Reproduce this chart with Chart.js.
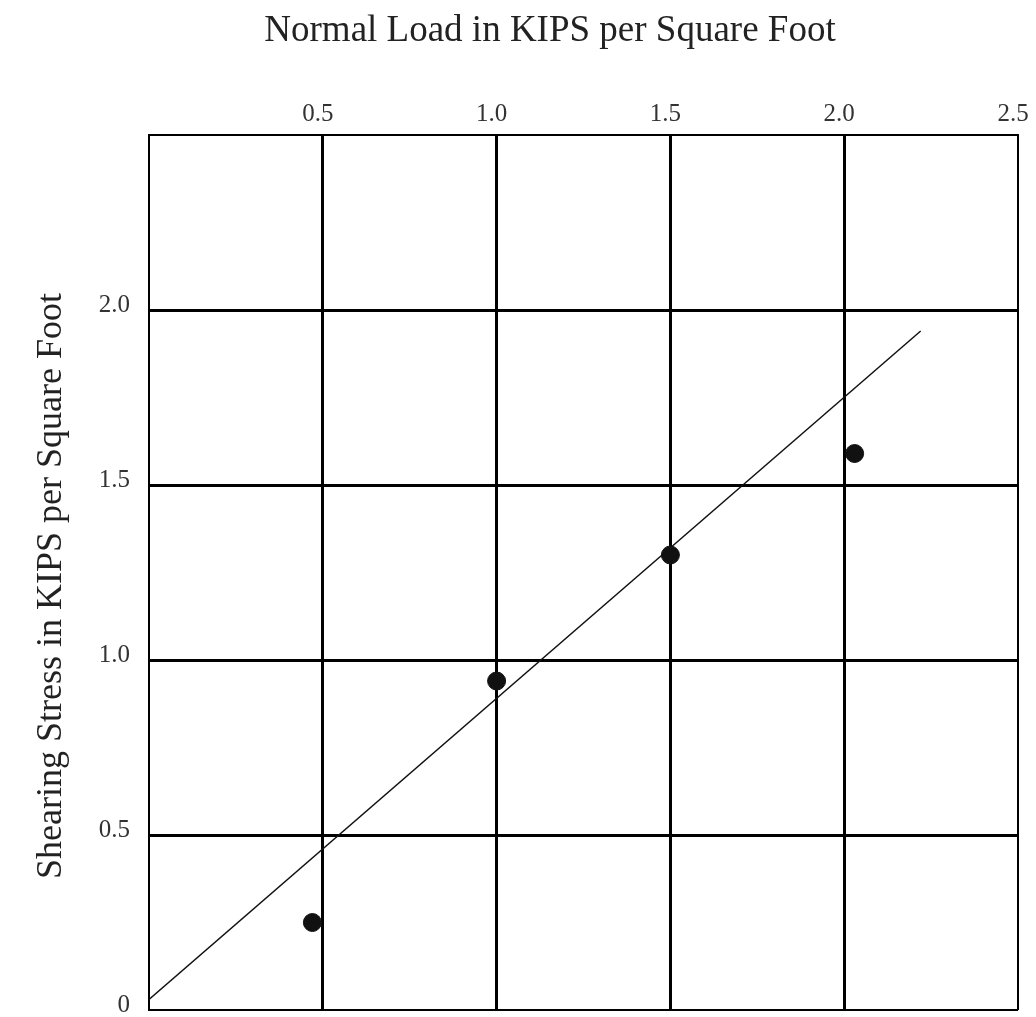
<!DOCTYPE html>
<html>
<head>
<meta charset="utf-8">
<title>Shear test</title>
<script src="https://cdn.jsdelivr.net/npm/chart.js@4.4.0/dist/chart.umd.min.js"></script>
<style>
  html, body { margin: 0; padding: 0; background: #fff; overflow: hidden; }
  canvas { display: block; }
</style>
</head>
<body>
<canvas id="shearChart" width="1036" height="1017"></canvas>
<script>
// measured test points (normal load vs shearing stress, kips/sq ft)
const normalLoad = [0.47, 1.0, 1.5, 2.03];
const shearStress = [0.25, 0.94, 1.30, 1.59];

// ends of the drawn best-fit line
const fitLoad = [0, 2.22];
const fitStress = [0.03, 1.94];

// tick labels (0..2.5 in steps of 0.5)
const xTickLabels = ['', '0.5', '1.0', '1.5', '2.0', '2.5'];
const yTickLabels = ['0', '0.5', '1.0', '1.5', '2.0', ''];

const serif = '"Liberation Serif", "Times New Roman", serif';
const titleSize = 37;
const titleTop = 9;

// edge lines thinner than the inner grid
const gridWidth = (ctx) => (ctx.index === 0 || ctx.index === 5 ? 2 : 3);

const ctx = document.getElementById('shearChart').getContext('2d');
new Chart(ctx, {
  data: {
    datasets: [
      {
        type: 'scatter',
        data: normalLoad.map((x, i) => ({ x: x, y: shearStress[i] })),
        backgroundColor: '#111',
        borderColor: '#111',
        pointRadius: 9,
        pointHoverRadius: 9,
      },
      {
        type: 'line',
        data: fitLoad.map((x, i) => ({ x: x, y: fitStress[i] })),
        borderColor: '#111',
        borderWidth: 1.5,
        pointRadius: 0,
        fill: false,
      },
    ],
  },
  options: {
    responsive: false,
    animation: false,
    layout: { autoPadding: false, padding: { top: 0, left: 82, right: 18, bottom: 7 } },
    plugins: {
      legend: { display: false },
      tooltip: { enabled: false },
      title: {
        display: true,
        text: 'Normal Load in KIPS per Square Foot',
        color: '#222',
        font: { family: serif, size: titleSize, weight: 'normal' },
        padding: { top: titleTop, bottom: 0 },
      },
    },
    scales: {
      x: {
        type: 'linear',
        position: 'top',
        min: 0,
        max: 2.5,
        afterFit: (scale) => {
          scale.height = 135 - (titleSize * 1.2 + titleTop);
          scale.paddingLeft = 0;
          scale.paddingRight = 0;
        },
        ticks: {
          stepSize: 0.5,
          padding: 6,
          labelOffset: -5,
          color: '#333',
          font: { family: serif, size: 25 },
          callback: (v, i) => xTickLabels[i],
        },
        grid: { color: '#000', lineWidth: gridWidth, drawTicks: false },
        border: { color: '#000', width: 2 },
      },
      y: {
        type: 'linear',
        min: 0,
        max: 2.5,
        afterFit: (scale) => {
          scale.width = 149 - 82;
          scale.paddingTop = 0;
          scale.paddingBottom = 0;
        },
        ticks: {
          stepSize: 0.5,
          padding: 19,
          labelOffset: -5,
          color: '#333',
          font: { family: serif, size: 25 },
          callback: (v, i) => yTickLabels[i],
        },
        grid: { color: '#000', lineWidth: gridWidth, drawTicks: false },
        border: { color: '#000', width: 2 },
        title: {
          display: true,
          text: 'Shearing Stress in KIPS per Square Foot\u00a0\u00a0\u00a0',
          color: '#222',
          font: { family: serif, size: 36 },
          padding: { top: -52, bottom: 0 },
        },
      },
    },
  },
});
</script>
</body>
</html>
